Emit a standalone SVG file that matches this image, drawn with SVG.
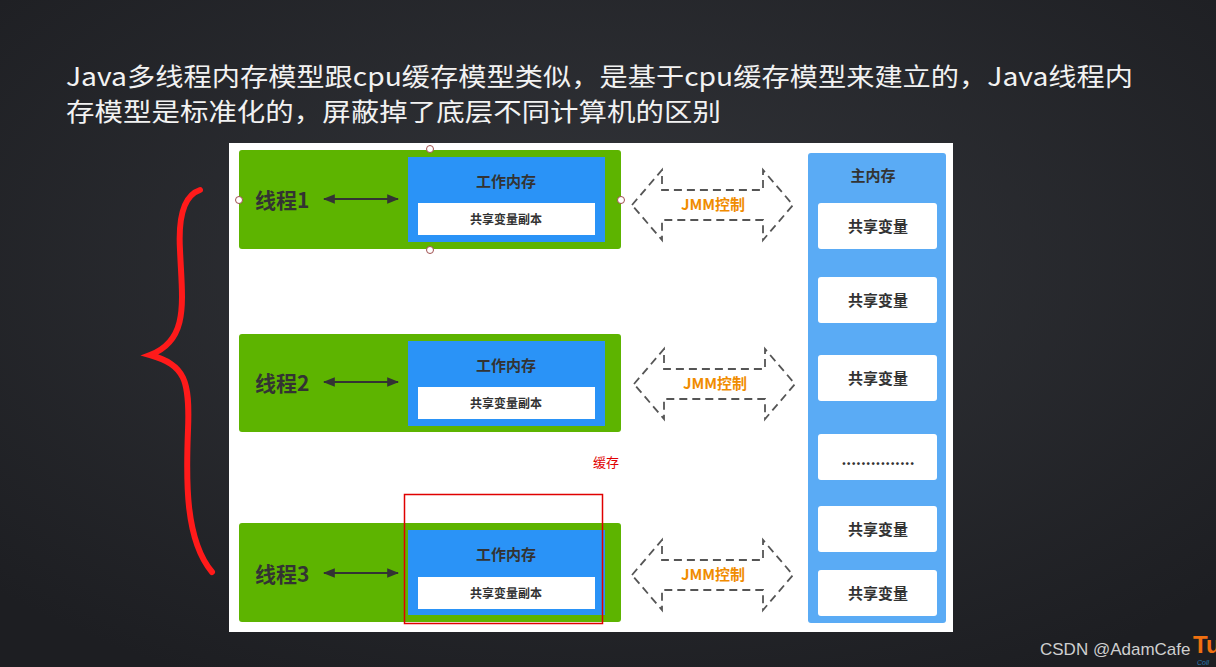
<svg xmlns="http://www.w3.org/2000/svg" width="1216" height="667" viewBox="0 0 1216 667">
<defs>
<radialGradient id="bg" cx="0.5" cy="0.4" r="0.7"><stop offset="0" stop-color="#33353a"/><stop offset="1" stop-color="#1d1e22"/></radialGradient>
<marker id="ah" viewBox="0 0 10 10" refX="9" refY="5" markerWidth="6" markerHeight="6" orient="auto-start-reverse"><path d="M0,1 L10,5 L0,9 z" fill="#333"/></marker>
<path id="jmm" d="M0,0 L30,-35 L30,-15 L131,-15 L131,-35 L161,0 L131,35 L131,15 L30,15 L30,35 Z"/>
</defs>
<style>
.t{font-family:"Noto Sans CJK SC","Liberation Sans",sans-serif}
.g{fill:#5db400}
.b{fill:#2a93f7}
.w{fill:#fff}
.th{font-size:21px;font-weight:bold;fill:#333}
.wm{font-size:15px;font-weight:bold;fill:#333}
.sv{font-size:12px;font-weight:bold;fill:#333}
.j{fill:none;stroke:#555;stroke-width:1.8;stroke-dasharray:8,5}
.jt{font-size:15px;font-weight:bold;fill:#f08c00}
.cell{fill:#fff;rx:3}
.h{fill:#fff;stroke:#a05050;stroke-width:1}
</style>
<rect width="1216" height="667" fill="url(#bg)"/>
<text class="t" x="66" y="86" font-size="25" fill="#f2f2f2" textLength="1067" lengthAdjust="spacingAndGlyphs">Java多线程内存模型跟cpu缓存模型类似，是基于cpu缓存模型来建立的，Java线程内</text>
<text class="t" x="66" y="121" font-size="25" fill="#f2f2f2" textLength="655" lengthAdjust="spacingAndGlyphs">存模型是标准化的，屏蔽掉了底层不同计算机的区别</text>
<rect x="229" y="143" width="724" height="489" fill="#fff"/>
<g id="thread1"><rect class="g" x="239" y="150" width="382" height="99" rx="3"/><text class="t th" x="255" y="208">线程1</text><rect class="b" x="408" y="157" width="197" height="85"/><text class="t wm" x="506" y="187" text-anchor="middle">工作内存</text><rect class="w" x="418" y="203" width="177" height="32"/><text class="t sv" x="506" y="224" text-anchor="middle">共享变量副本</text></g>
<g id="thread2"><rect class="g" x="239" y="334" width="382" height="98" rx="3"/><text class="t th" x="255" y="391">线程2</text><rect class="b" x="408" y="341" width="197" height="85"/><text class="t wm" x="506" y="371" text-anchor="middle">工作内存</text><rect class="w" x="418" y="387" width="177" height="32"/><text class="t sv" x="506" y="408" text-anchor="middle">共享变量副本</text></g>
<g id="thread3"><rect class="g" x="239" y="523" width="382" height="99" rx="3"/><text class="t th" x="255" y="582">线程3</text><rect class="b" x="408" y="530" width="197" height="85"/><text class="t wm" x="506" y="560" text-anchor="middle">工作内存</text><rect class="w" x="418" y="577" width="177" height="32"/><text class="t sv" x="506" y="598" text-anchor="middle">共享变量副本</text></g>
<g id="selection"><circle class="h" cx="430" cy="149" r="3.5"/><circle class="h" cx="430" cy="250" r="3.5"/><circle class="h" cx="239" cy="200" r="3.5"/><circle class="h" cx="621" cy="200" r="3.5"/></g>
<g id="main"><rect x="808" y="153" width="138" height="470" rx="3" fill="#5aabf5"/><text class="t wm" x="873" y="181" text-anchor="middle">主内存</text>
<rect class="cell" x="818" y="203" width="119" height="46"/><text class="t wm" x="878" y="232" text-anchor="middle">共享变量</text>
<rect class="cell" x="818" y="277" width="119" height="46"/><text class="t wm" x="878" y="306" text-anchor="middle">共享变量</text>
<rect class="cell" x="818" y="355" width="119" height="46"/><text class="t wm" x="878" y="384" text-anchor="middle">共享变量</text>
<rect class="cell" x="818" y="434" width="119" height="46"/><text class="t wm" x="878" y="465" text-anchor="middle">...............</text>
<rect class="cell" x="818" y="506" width="119" height="46"/><text class="t wm" x="878" y="535" text-anchor="middle">共享变量</text>
<rect class="cell" x="818" y="570" width="119" height="46"/><text class="t wm" x="878" y="599" text-anchor="middle">共享变量</text></g>
<g id="connectors">
<line x1="324" y1="199" x2="398" y2="199" stroke="#333" stroke-width="2" marker-start="url(#ah)" marker-end="url(#ah)"/>
<line x1="324" y1="382" x2="398" y2="382" stroke="#333" stroke-width="2" marker-start="url(#ah)" marker-end="url(#ah)"/>
<line x1="324" y1="573" x2="398" y2="573" stroke="#333" stroke-width="2" marker-start="url(#ah)" marker-end="url(#ah)"/>
<use href="#jmm" class="j" x="632" y="205"/><text class="t jt" x="713" y="210" text-anchor="middle">JMM控制</text>
<use href="#jmm" class="j" x="634" y="384"/><text class="t jt" x="715" y="389" text-anchor="middle">JMM控制</text>
<use href="#jmm" class="j" x="632" y="575"/><text class="t jt" x="713" y="580" text-anchor="middle">JMM控制</text>
</g>
<path d="M200,190 C185,195 178,215 180,250 C182,300 190,340 150,355 C185,365 190,380 188,430 C186,480 185,540 212,572" fill="none" stroke="#ff1a1a" stroke-width="6" stroke-linecap="round"/>
<rect x="404.5" y="494.5" width="198" height="129" fill="none" stroke="#e00000" stroke-width="1.5"/>
<text class="t" x="593" y="467" font-size="13" fill="#e00000">缓存</text>
<text x="1040" y="655" font-family="Liberation Sans, sans-serif" font-size="17" fill="#cfcfcf">CSDN @AdamCafe</text>
<text x="1193" y="653" font-family="Liberation Sans, sans-serif" font-size="24" font-weight="bold" fill="#f07010">Tu</text>
<text x="1197" y="665" font-family="Liberation Sans, sans-serif" font-size="7" font-style="italic" fill="#2a7ab0">Coll</text>
</svg>
